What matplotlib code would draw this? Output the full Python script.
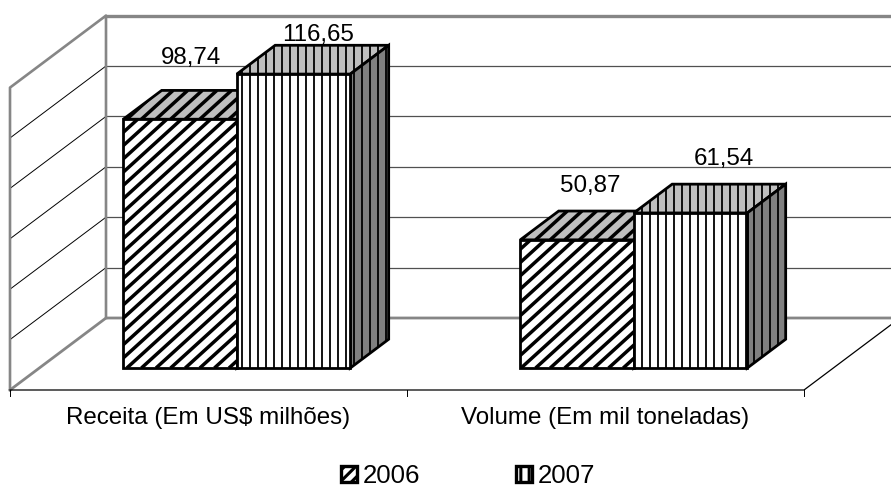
import numpy as np
import matplotlib
matplotlib.use("Agg")
import matplotlib.pyplot as plt
from matplotlib.patches import Polygon, Patch
from matplotlib.collections import LineCollection

categories = ["Receita (Em US$ milhões)", "Volume (Em mil toneladas)"]
series_names = ["2006", "2007"]
values_2006 = [98.74, 50.87]
values_2007 = [116.65, 61.54]
value_ticks = [0, 20, 40, 60, 80, 100, 120]
value_labels_2006 = ["98,74", "50,87"]
value_labels_2007 = ["116,65", "61,54"]

plt.rcParams["font.family"] = ["Liberation Sans", "DejaVu Sans"]
plt.rcParams["hatch.linewidth"] = 2.2
FS = 17.4
LEG_FS = 18.6
W, H = 891, 488
CAT_PX = 397.0      # pixels per category
VAL_PX = 2.52       # pixels per value unit
X0, Y0 = 10.0, 390.0
DEPTH_X, DEPTH_Y = 96 / CAT_PX, 72 / VAL_PX   # full depth of the plot box, in data units
BAR_W = 113.5 / CAT_PX
BAR_SHIFT = -1 / CAT_PX
BAR_D0, BAR_D1 = 0.305, 0.705
GRAY = "#868686"

fig = plt.figure(figsize=(W / 100, H / 100), dpi=100)
ax = fig.add_axes([0, 0, 1, 1])
ax.set_xlim(-X0 / CAT_PX, (W - X0) / CAT_PX)
ax.set_ylim(-(H - Y0) / VAL_PX, Y0 / VAL_PX)
ax.axis("off")


def depth(x, y, d):
    return (x + d * DEPTH_X, y + d * DEPTH_Y)


top_v = value_ticks[-1]
n = len(categories)
# walls: grid lines
for v in value_ticks[1:-1]:
    ax.plot([DEPTH_X, n + 1], [v + DEPTH_Y, v + DEPTH_Y], color="#505050", lw=0.9, zorder=1)
    ax.plot([0, DEPTH_X], [v, v + DEPTH_Y], color="black", lw=0.7, zorder=1)
# walls: outline
ax.plot([0, 0, DEPTH_X, DEPTH_X], [0, top_v, top_v + DEPTH_Y, DEPTH_Y], color=GRAY, lw=1.9, zorder=2)
ax.plot([DEPTH_X, n + 1], [top_v + DEPTH_Y] * 2, color=GRAY, lw=2.4, zorder=2)
ax.plot([0, DEPTH_X, n + 1], [0, DEPTH_Y, DEPTH_Y], color=GRAY, lw=2.0, zorder=2)
# floor
ax.plot([0, n, n + DEPTH_X], [0, 0, DEPTH_Y], color="black", lw=0.9, zorder=2)
for i in range(n + 1):
    ax.plot([i, i], [0, -6 / VAL_PX], color="black", lw=0.7, zorder=2)


def stripes(poly_xy, kind, zorder):
    xs = [p[0] for p in poly_xy]
    ys = [p[1] for p in poly_xy]
    patch = Polygon(poly_xy, closed=True, fc="none", ec="none", zorder=zorder)
    ax.add_patch(patch)
    segs = []
    if kind == "diag":
        sp = 14.6 / CAT_PX
        ph = (max(ys) - min(ys)) * VAL_PX / CAT_PX * 1.1
        start = np.floor((min(xs) - ph) / sp) * sp
        for x in np.arange(start, max(xs) + sp, sp):
            segs.append([(x, min(ys)), (x + ph, max(ys))])
        lw = 2.5
    else:
        sp = 8.0 / CAT_PX
        start = np.floor(min(xs) / sp) * sp
        for x in np.arange(start, max(xs) + sp, sp):
            segs.append([(x, min(ys)), (x, max(ys))])
        lw = 1.3
    lc = LineCollection(segs, colors="black", linewidths=lw, zorder=zorder)
    ax.add_collection(lc)
    lc.set_clip_path(patch)


def bar(x, v, kind, z):
    xr = x + BAR_W
    a = depth(x, 0, BAR_D0); b = depth(xr, 0, BAR_D0)
    c = depth(xr, v, BAR_D0); d = depth(x, v, BAR_D0)
    e = depth(xr, 0, BAR_D1); f = depth(xr, v, BAR_D1); g = depth(x, v, BAR_D1)
    faces = [([d, c, f, g], "#bfbfbf"), ([b, e, f, c], "#808080"), ([a, b, c, d], "white")]
    for k, (poly, col) in enumerate(faces):
        zz = z + k * 0.1
        ax.add_patch(Polygon(poly, closed=True, fc=col, ec="none", zorder=zz))
        stripes(poly, kind, zz + 0.01)
        ax.add_patch(Polygon(poly, closed=True, fc="none", ec="black", lw=2.0,
                             joinstyle="miter", zorder=zz + 0.02))


offsets = [(11, 50), (13, 43)]
offsets2 = [(25, 28), (33, 43)]
for i in range(n):
    x0 = i + 0.5 - BAR_W + BAR_SHIFT
    bar(x0, values_2006[i], "diag", 5 + i * 2)
    bar(x0 + BAR_W, values_2007[i], "vert", 6 + i * 2)
    for xs, v, lab, off in ((x0, values_2006[i], value_labels_2006[i], offsets[i]),
                            (x0 + BAR_W, values_2007[i], value_labels_2007[i], offsets2[i])):
        px, py = depth(xs + BAR_W / 2, v, BAR_D0)
        ax.annotate(lab, (px, py), xytext=(off[0] * 0.72, off[1] * 0.72), textcoords="offset points",
                    ha="center", va="bottom", fontsize=FS, color="black", zorder=20)
    ax.annotate(categories[i], (i + 0.5, 0), xytext=(0, -28 * 0.72), textcoords="offset points",
                ha="center", va="center", fontsize=FS, color="black", zorder=20)

handles = [Patch(fc="white", ec="black", lw=2.4, hatch="///", label=series_names[0]),
           Patch(fc="white", ec="black", lw=2.4, hatch="||", label=series_names[1])]
leg = fig.legend(handles=handles, loc="lower left", ncol=2, frameon=False, fontsize=LEG_FS,
                 bbox_to_anchor=(341 / W, 0 / H), borderpad=0, borderaxespad=0,
                 handlelength=0.62, handleheight=0.62, handletextpad=0.22, columnspacing=3.7)

fig.savefig("out.png", dpi=100)
